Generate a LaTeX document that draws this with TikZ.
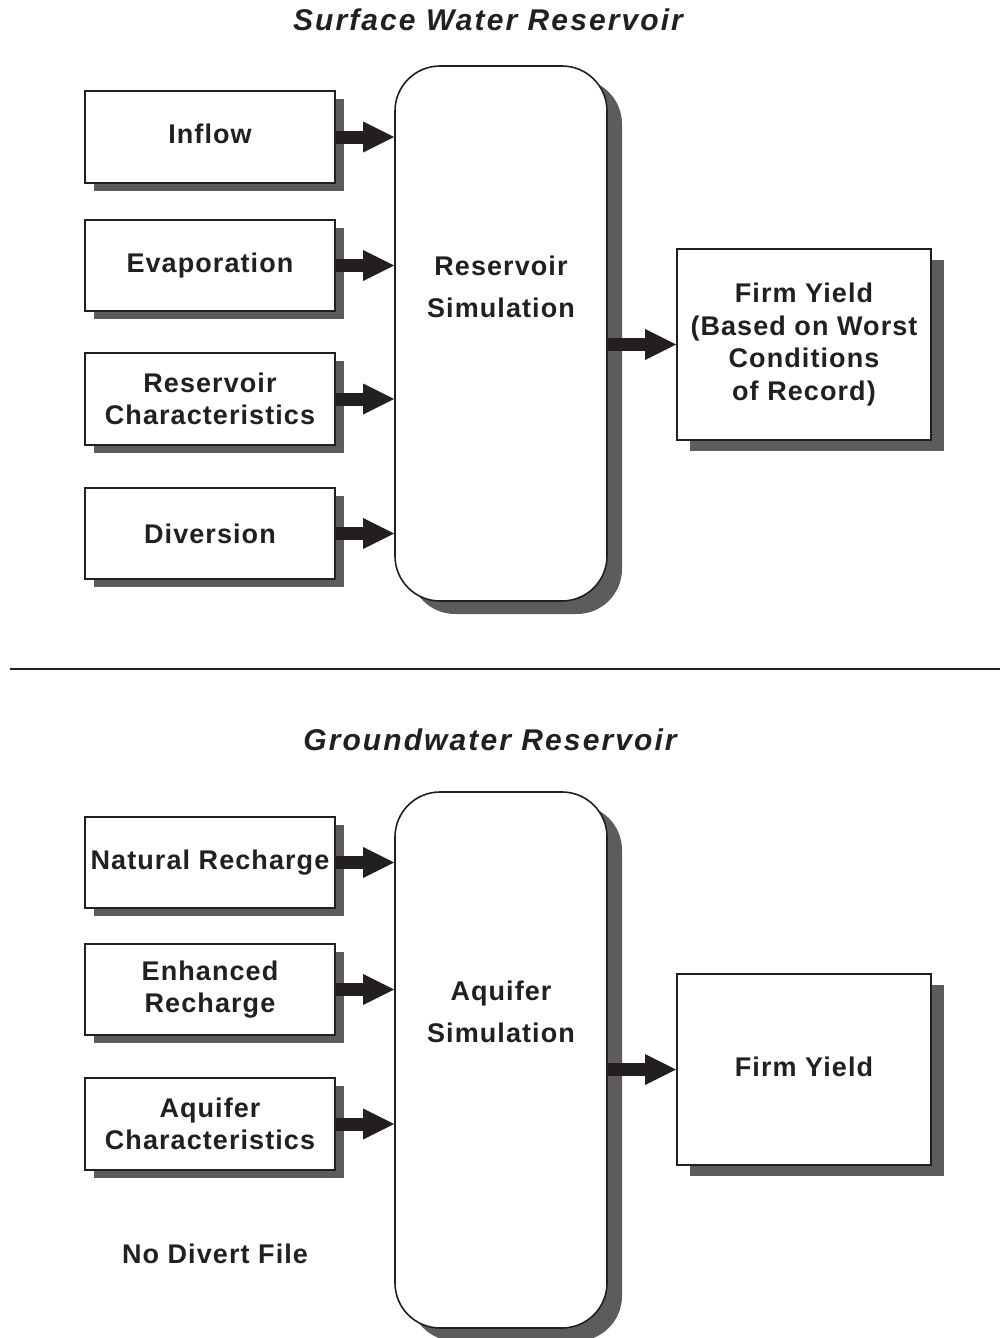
\documentclass[tikz,border=0pt]{standalone}
\usepackage{fontspec}
\setmainfont{Liberation Sans}
\newfontfamily\boxfont[LetterSpace=4]{Liberation Sans}
\newfontfamily\titlefont[LetterSpace=7]{Liberation Sans}
\usetikzlibrary{arrows.meta,shadows}
\definecolor{ink}{RGB}{35,31,32}
\definecolor{shade}{RGB}{94,92,91}
\begin{document}
\begin{tikzpicture}[x=1pt,y=-1pt,
  every node/.style={text=ink, font=\boxfont\fontsize{27}{32.5}\selectfont\bfseries},
  inbox/.style={draw=ink, line width=2pt, fill=white, minimum width=250pt, inner sep=0pt, align=center,
    general shadow={fill=shade, shadow xshift=9pt, shadow yshift=-8pt}},
  simbox/.style={draw=ink, line width=1.6pt, fill=white, rounded corners=45pt, minimum width=212pt, inner sep=0pt,
    general shadow={fill=shade, shadow xshift=15pt, shadow yshift=-13pt}},
  outbox/.style={draw=ink, line width=2pt, fill=white, minimum width=254pt, minimum height=191pt, inner sep=0pt, align=center,
    general shadow={fill=shade, shadow xshift=13pt, shadow yshift=-11pt}},
  bigarrow/.style={draw=ink, line width=13pt, -{Triangle[length=31pt,width=31pt,line width=0pt]}},
  titletext/.style={font=\titlefont\fontsize{30}{36}\selectfont\bfseries\itshape}
]
\useasboundingbox (0,0) rectangle (1000,1338);

% titles
\node[titletext] (t1) at (488,20) {Surface Water Reservoir};
\node[titletext] (t2) at (490,740) {Groundwater Reservoir};

% separator
\coordinate (sepL) at (10,669);
\coordinate (sepR) at (1000,669);
\draw[ink, line width=2pt] (sepL) -- (sepR);

% ---- upper part
\node[simbox, minimum height=535pt] (rsim) at (501,333.5) {};
\node[align=center] (rsimtext) at (501,287) {Reservoir\\[9pt]Simulation};
\node[inbox, minimum height=92pt] (inflow) at (210,137) {Inflow\vphantom{g}};
\node[inbox, minimum height=91pt] (evap) at (210,265.5) {Evaporation};
\node[inbox, minimum height=92pt] (rchar) at (210,399) {Reservoir\\Characteristics};
\node[inbox, minimum height=91pt] (div) at (210,533.5) {Diversion};
\node[outbox] (fy1) at (804,344.5) {Firm Yield\\(Based on Worst\\Conditions\\of Record)};

\draw[bigarrow] (inflow.east) -- (rsim.west |- inflow.east);
\draw[bigarrow] (evap.east) -- (rsim.west |- evap.east);
\draw[bigarrow] (rchar.east) -- (rsim.west |- rchar.east);
\draw[bigarrow] (div.east) -- (rsim.west |- div.east);
\draw[bigarrow] (rsim.east |- fy1.west) -- (fy1.west);

% ---- lower part
\node[simbox, minimum height=536pt] (asim) at (501,1060) {};
\node[align=center] (asimtext) at (501,1012) {Aquifer\\[9pt]Simulation};
\node[inbox, minimum height=91pt] (nat) at (210,862.5) {Natural Recharge};
\node[inbox, minimum height=91pt] (enh) at (210,989.5) {Enhanced\\Recharge};
\node[inbox, minimum height=92pt] (achar) at (210,1124) {Aquifer\\Characteristics};
\node[outbox] (fy2) at (804,1069.5) {Firm Yield\vphantom{g}};

\draw[bigarrow] (nat.east) -- (asim.west |- nat.east);
\draw[bigarrow] (enh.east) -- (asim.west |- enh.east);
\draw[bigarrow] (achar.east) -- (asim.west |- achar.east);
\draw[bigarrow] (asim.east |- fy2.west) -- (fy2.west);

\node (nodiv) at (215,1254) {No Divert File};
\end{tikzpicture}
\end{document}
